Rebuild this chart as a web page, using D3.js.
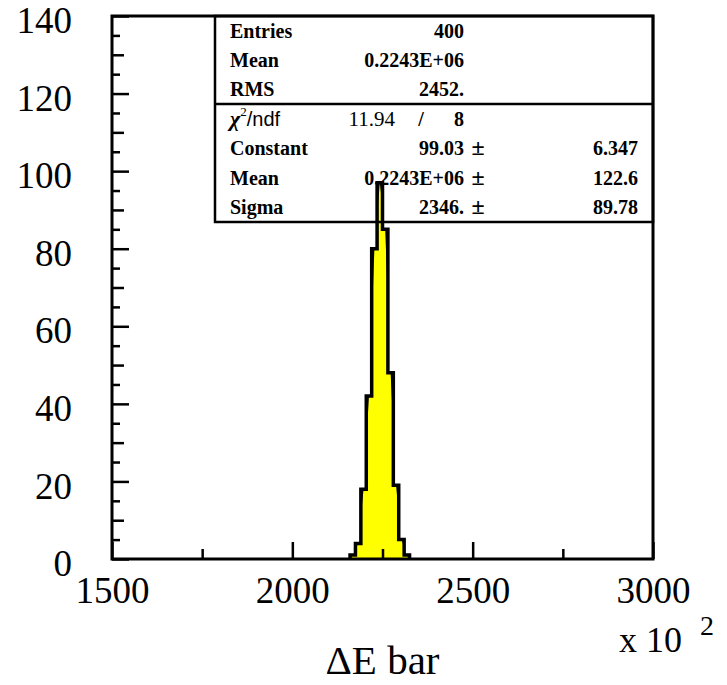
<!DOCTYPE html>
<html>
<head>
<meta charset="utf-8">
<script src="https://cdn.jsdelivr.net/npm/d3@7"></script>
<style>
body { margin: 0; background: #fff; }
svg { display: block; }
text { font-family: "Liberation Serif", "Times New Roman", serif; fill: #000; }
</style>
</head>
<body>
<svg width="727" height="685"></svg>
<script>
// histogram bins (lower edge, in units of 10^2) and their contents
var binLow = [2160, 2175, 2190, 2205, 2220, 2235, 2250, 2265, 2280, 2295, 2310];
var counts = [1, 4, 18, 42, 80, 97, 85, 48, 19, 5, 1];
var binWidth = 15;

// axis ticks
var xTicks = [1500, 2000, 2500, 3000];
var xMinor = [1750, 2250, 2750];
var yTicks = [0, 20, 40, 60, 80, 100, 120, 140];
var yMid = [10, 30, 50, 70, 90, 110, 130];
var yMinor = [5, 15, 25, 35, 45, 55, 65, 75, 85, 95, 105, 115, 125, 135];

// stats box
var statNames = ["Entries", "Mean", "RMS"];
var statValues = ["400", "0.2243E+06", "2452."];
var chi2 = "11.94", ndf = "8";
var fitNames = ["Constant", "Mean", "Sigma"];
var fitValues = ["99.03", "0.2243E+06", "2346."];
var fitErrors = ["6.347", "122.6", "89.78"];

var svg = d3.select("svg"),
    margin = {top: 16, right: 74, bottom: 126, left: 112},
    width = +svg.attr("width") - margin.left - margin.right,
    height = +svg.attr("height") - margin.top - margin.bottom,
    g = svg.append("g").attr("transform", "translate(" + margin.left + "," + margin.top + ")");

var x = d3.scaleLinear().domain([1500, 3000]).range([0, width]),
    y = d3.scaleLinear().domain([0, 140]).range([height, 0]);

// staircase outline of the histogram
var steps = [[binLow[0], 0]];
binLow.forEach(function(lo, i) {
  steps.push([lo, counts[i]]);
  steps.push([lo + binWidth, counts[i]]);
});
steps.push([binLow[binLow.length - 1] + binWidth, 0]);

var line = d3.line()
    .x(function(d) { return x(d[0]); })
    .y(function(d) { return y(d[1]); });

g.append("clipPath").attr("id", "histclip")
  .append("path").attr("d", line(steps) + "Z");

g.append("path")
    .attr("d", line(steps) + "Z")
    .attr("fill", "#000");

// yellow fill through bin centres, kept inside the staircase
var centres = [[binLow[0], 0]];
binLow.forEach(function(lo, i) { centres.push([lo + binWidth / 2, counts[i]]); });
centres.push([binLow[binLow.length - 1] + binWidth, 0]);

g.append("path")
    .attr("clip-path", "url(#histclip)")
    .attr("d", d3.area()
        .x(function(d) { return x(d[0]); })
        .y0(y(0))
        .y1(function(d) { return y(d[1]); })(centres))
    .attr("fill", "#ffff00");

g.append("path")
    .attr("d", line(steps))
    .attr("fill", "none")
    .attr("stroke", "#000")
    .attr("stroke-width", 3.5);

// axes
g.append("g")
    .attr("transform", "translate(0," + height + ")")
    .call(d3.axisBottom(x).tickValues(xTicks).tickSize(-17).tickPadding(18).tickFormat(d3.format("d")));
g.append("g")
    .attr("transform", "translate(0," + height + ")")
    .call(d3.axisBottom(x).tickValues(xMinor).tickSize(-10).tickFormat(""));

g.append("g")
    .attr("class", "yaxis")
    .call(d3.axisLeft(y).tickValues(yTicks).tickSize(-17).tickPadding(40));
g.append("g").call(d3.axisLeft(y).tickValues(yMid).tickSize(-12).tickFormat(""));
g.append("g").call(d3.axisLeft(y).tickValues(yMinor).tickSize(-8).tickFormat(""));

g.selectAll(".domain").remove();
g.selectAll(".tick line").attr("stroke", "#000").attr("stroke-width", 2.5);
g.selectAll(".tick text")
    .attr("font-family", "Liberation Serif")
    .attr("font-size", 37)
    .attr("fill", "#000");
g.selectAll(".yaxis .tick text").attr("dy", "0.45em");

// frame
g.append("rect")
    .attr("width", width)
    .attr("height", height)
    .attr("fill", "none")
    .attr("stroke", "#000")
    .attr("stroke-width", 3);

// axis titles
svg.append("text")
    .attr("x", margin.left + width / 2)
    .attr("y", 674)
    .attr("text-anchor", "middle")
    .attr("font-size", 41)
    .text("\u0394E bar");

svg.append("text")
    .attr("x", 619)
    .attr("y", 652)
    .attr("font-size", 36)
    .text("x 10");
svg.append("text")
    .attr("x", 700)
    .attr("y", 635)
    .attr("font-size", 28)
    .text("2");

// stats box (transparent, the peak shows through it)
var box = svg.append("g").attr("transform", "translate(215," + margin.top + ")"),
    boxW = margin.left + width - 215,
    topH = 88, fitH = 118,
    rowTop = topH / statNames.length,
    rowFit = fitH / (fitNames.length + 1);

box.append("rect")
    .attr("width", boxW)
    .attr("height", topH + fitH)
    .attr("fill", "none")
    .attr("stroke", "#000")
    .attr("stroke-width", 2.5);
box.append("line")
    .attr("x1", 0).attr("x2", boxW)
    .attr("y1", topH).attr("y2", topH)
    .attr("stroke", "#000")
    .attr("stroke-width", 2.5);

var labelX = 15, valueX = 249, pmX = 263, errX = 423;

function row(yc, name, value, err) {
  box.append("text").attr("x", labelX).attr("y", yc + 7)
      .attr("font-size", 20).attr("font-weight", "bold").text(name);
  box.append("text").attr("x", valueX).attr("y", yc + 7)
      .attr("text-anchor", "end").attr("font-size", 20).attr("font-weight", "bold").text(value);
  if (err !== undefined) {
    box.append("text").attr("x", pmX).attr("y", yc + 7)
        .attr("text-anchor", "middle").attr("font-size", 24).attr("font-weight", "bold").text("\u00b1");
    box.append("text").attr("x", errX).attr("y", yc + 7)
        .attr("text-anchor", "end").attr("font-size", 20).attr("font-weight", "bold").text(err);
  }
}

statNames.forEach(function(n, i) { row(rowTop * (i + 0.5), n, statValues[i]); });

// chi2 / ndf line
var cy = topH + rowFit * 0.5 + 7;
var chiText = box.append("text").attr("x", labelX).attr("y", cy).attr("font-size", 22);
chiText.append("tspan").attr("font-style", "italic").attr("font-weight", "bold").text("\u03c7");
chiText.append("tspan").attr("font-size", 13).attr("dy", -10).text("2");
chiText.append("tspan").attr("dy", 10).attr("font-family", "Liberation Sans").attr("font-size", 20).text("/ndf");
box.append("text").attr("x", 180).attr("y", cy).attr("text-anchor", "end")
    .attr("font-size", 21).attr("font-family", "Liberation Sans").text(chi2);
box.append("text").attr("x", 206).attr("y", cy).attr("text-anchor", "middle")
    .attr("font-size", 20).attr("font-weight", "bold").text("/");
box.append("text").attr("x", valueX).attr("y", cy).attr("text-anchor", "end")
    .attr("font-size", 20).attr("font-weight", "bold").text(ndf);

fitNames.forEach(function(n, i) {
  row(topH + rowFit * (i + 1.5), n, fitValues[i], fitErrors[i]);
});
</script>
</body>
</html>
